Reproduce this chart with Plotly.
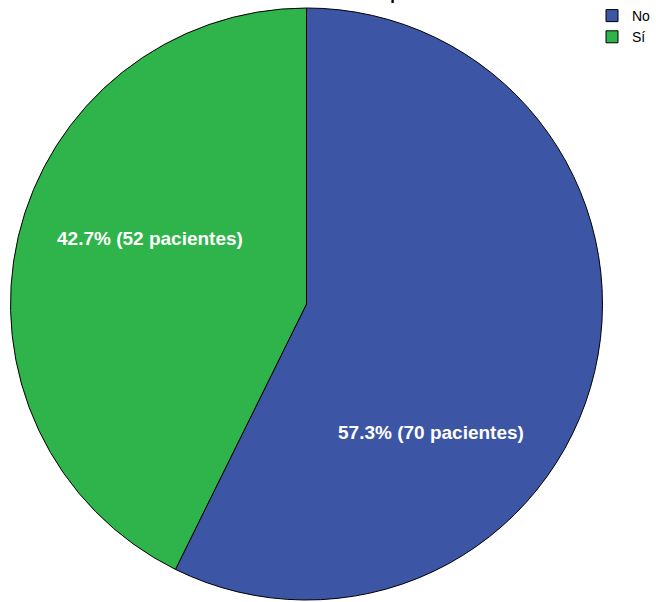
import plotly.graph_objects as go

# Smoking status of patients
categories = ["No", "Sí"]
percentages = [57.3, 42.7]
patients = [70, 52]
colors = ["#3C55A5", "#2EB44A"]

# label anchor points (paper fraction) for each slice's text
label_x = [431 / 656, 150 / 656]
label_y = [1 - 432 / 602, 1 - 238 / 602]

fig = go.Figure(
    go.Pie(
        labels=categories,
        values=percentages,
        customdata=patients,
        textinfo="none",
        marker=dict(colors=colors, line=dict(color="black", width=1)),
        sort=False,
        direction="clockwise",
        rotation=0,
        hovertemplate="%{label}: %{value}% (%{customdata} pacientes)<extra></extra>",
        domain=dict(x=[8 / 656, 605 / 656], y=[2 / 602, 594 / 602]),
    )
)

for pct, n, lx, ly in zip(percentages, patients, label_x, label_y):
    fig.add_annotation(
        text=f"<b>{pct:.1f}% ({n} pacientes)</b>",
        xref="paper", yref="paper",
        x=lx, y=ly,
        xanchor="center", yanchor="middle",
        showarrow=False,
        font=dict(family="Liberation Sans, Arial", size=19, color="white"),
    )

fig.add_annotation(
    text="<b>Tabaquismo</b>",
    xref="paper", yref="paper",
    x=395 / 656, y=1 - 6 / 602,
    xanchor="center", yanchor="bottom",
    showarrow=False,
    font=dict(family="Liberation Sans, Arial", size=17, color="black"),
)

fig.update_layout(
    width=656,
    height=602,
    margin=dict(l=0, r=0, t=0, b=0, autoexpand=False),
    paper_bgcolor="white",
    plot_bgcolor="white",
    showlegend=True,
    legend=dict(
        x=1, y=1, xanchor="right", yanchor="top",
        font=dict(family="Liberation Sans, Arial", size=14, color="black"),
        itemwidth=30,
        tracegroupgap=0,
    ),
)

fig.write_html("out.html")
